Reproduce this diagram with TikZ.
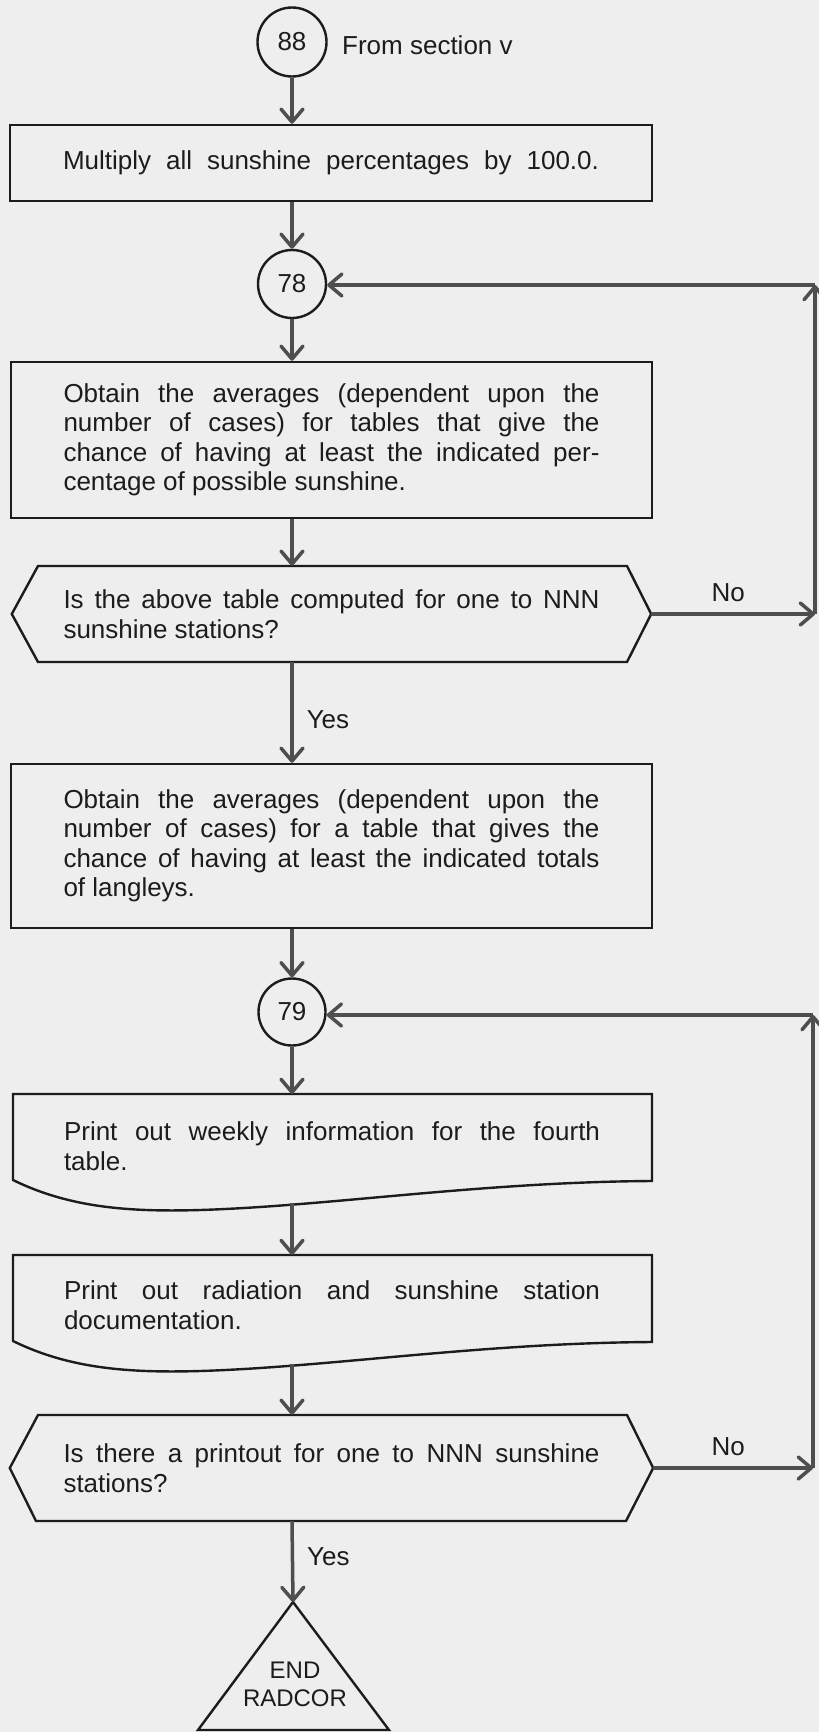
\documentclass[tikz,border=0pt]{standalone}
\usepackage{fontspec}
\setmainfont{Liberation Sans}
\usetikzlibrary{arrows.meta}
\definecolor{paper}{HTML}{EEEEEE}
\definecolor{ink}{HTML}{1C1C1C}
\definecolor{wire}{HTML}{4E4E4E}
\newcommand{\jtext}[1]{\parbox{536pt}{\spaceskip=7.2pt plus 40pt minus 2pt\hyphenpenalty=10000\relax #1}}
\begin{document}
\begin{tikzpicture}[x=1pt,y=-1pt,
  every node/.style={inner sep=0pt, text=ink, font=\fontsize{26}{29.5}\selectfont},
  procbox/.style={draw=ink, line width=2.4pt, rectangle},
  connector/.style={draw=ink, line width=2.4pt, circle},
  outline/.style={draw=ink, line width=2.4pt, line join=miter},
  arr/.style={draw=wire, line width=3.5pt, -{Straight Barb[length=13pt,width=22pt,round]}},
  endtext/.style={font=\fontsize{24}{28}\selectfont, align=center}
]
\fill[paper] (0,0) rectangle (819,1732);
\useasboundingbox (0,0) rectangle (819,1732);

% nodes
\node[connector, minimum size=69pt] (n88) at (292,42) {88};
\node[anchor=west] (src) at (342,45) {From section v};
\node[procbox, minimum width=642pt, minimum height=76pt] (b1) at (331,163)
  {\makebox[536pt][s]{Multiply all sunshine percentages by 100.0.}};
\node[connector, minimum size=68pt] (n78) at (292,284) {78};
\node[procbox, minimum width=641pt, minimum height=156pt] (b2) at (331.5,440)
  {\jtext{Obtain the averages (dependent upon the\linebreak number of cases) for tables that give the\linebreak chance of having at least the indicated per-\linebreak centage of possible sunshine.}};
\node[minimum width=639pt, minimum height=96pt] (d1) at (331.5,614)
  {\jtext{Is the above table computed for one to NNN\linebreak sunshine stations?}};
\draw[outline] (d1.west) -- (38,566) -- (627,566) -- (d1.east) -- (627,662) -- (38,662) -- cycle;
\node[procbox, minimum width=641pt, minimum height=164pt] (b3) at (331.5,846)
  {\jtext{Obtain the averages (dependent upon the\linebreak number of cases) for a table that gives the\linebreak chance of having at least the indicated totals\linebreak of langleys.}};
\node[connector, minimum size=67pt] (n79) at (292,1012) {79};

\node (b4) at (332,1146) {\jtext{Print out weekly information for the fourth\linebreak table.}};
\draw[outline] (13,1094) -- (652,1094) -- (652,1181) .. controls (480,1182) and (330,1206) .. (200,1210) .. controls (130,1212) and (70,1208) .. (13,1180) -- cycle;
\coordinate (b4top) at (292,1094);
\coordinate (b4bot) at (292,1203);

\node (b5) at (332,1305) {\jtext{Print out radiation and sunshine station\linebreak documentation.}};
\draw[outline] (13,1255) -- (652,1255) -- (652,1342) .. controls (480,1343) and (330,1367) .. (200,1371) .. controls (130,1373) and (70,1369) .. (13,1341) -- cycle;
\coordinate (b5top) at (292,1255);
\coordinate (b5bot) at (292,1364);

\node[minimum width=643pt, minimum height=106pt] (d2) at (331.5,1468)
  {\jtext{Is there a printout for one to NNN sunshine\linebreak stations?}};
\draw[outline] (d2.west) -- (38,1415) -- (627,1415) -- (d2.east) -- (626,1521) -- (36,1521) -- cycle;

\coordinate (tapex) at (293,1602);
\draw[outline] (tapex) -- (389,1730) -- (198,1730) -- cycle;
\node[endtext] (endn) at (295,1684) {END\\RADCOR};

% connectors
\draw[arr] (n88.south) -- (n88 |- b1.north);
\draw[arr] (n88 |- b1.south) -- (n78.north);
\draw[arr] (n78.south) -- (n78 |- b2.north);
\draw[arr] (n78 |- b2.south) -- (n78 |- d1.north);
\draw[arr] (n78 |- d1.south) -- node[pos=0.57, anchor=west, xshift=13pt] {Yes} (n78 |- b3.north);
\draw[arr] (n78 |- b3.south) -- (n79.north);
\draw[arr] (n79.south) -- (b4top);
\draw[arr] (b4bot) -- (b5top);
\draw[arr] (b5bot) -- (n79 |- d2.north);
\draw[arr] (n79 |- d2.south) -- node[pos=0.44, anchor=west, xshift=13pt] {Yes} (tapex);

\coordinate (r1) at (815,614);
\coordinate (r1t) at (815,285);
\draw[arr] (d1.east) -- node[pos=0.47, anchor=south, yshift=11pt] {No} (r1);
\draw[arr] (r1) -- (r1t);
\draw[arr] (r1t) -- (r1t -| n78.east);

\coordinate (r2) at (813,1468);
\coordinate (r2t) at (813,1015);
\draw[arr] (d2.east) -- node[pos=0.47, anchor=south, yshift=11pt] {No} (r2);
\draw[arr] (r2) -- (r2t);
\draw[arr] (r2t) -- (r2t -| n79.east);
\end{tikzpicture}
\end{document}
